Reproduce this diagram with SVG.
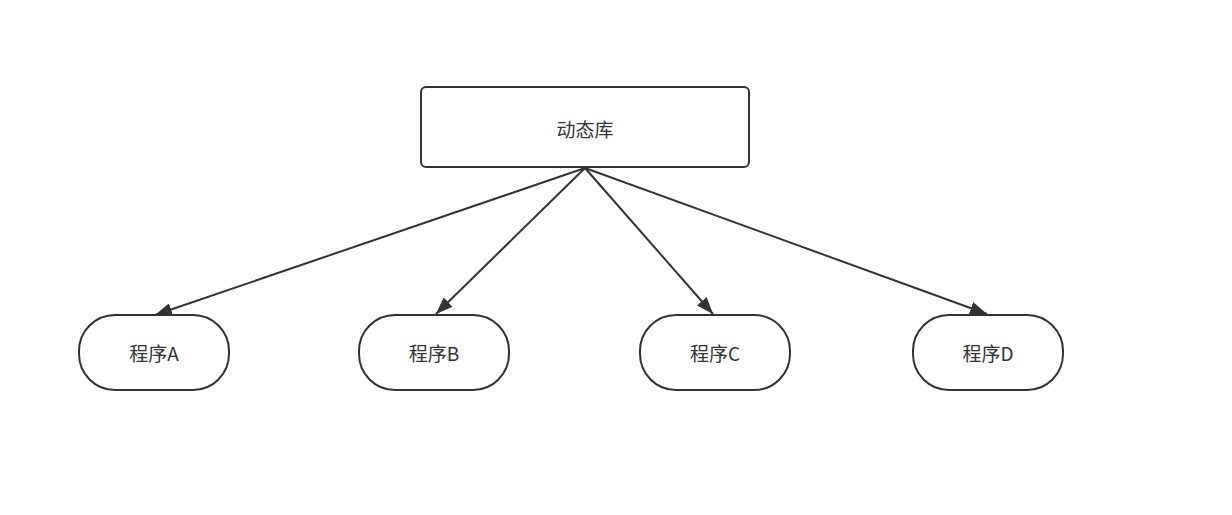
<svg xmlns="http://www.w3.org/2000/svg" width="1232" height="515" viewBox="0 0 1232 515">
<style>
.box{fill:#fff;stroke:#323232;stroke-width:2}
.lbl{font-family:"Noto Sans CJK SC","Liberation Sans",sans-serif;font-size:19px;fill:#333;text-anchor:middle;dominant-baseline:central}
.edge{stroke:#333;stroke-width:2;fill:none}
</style>
<defs>
<marker id="arr" viewBox="0 0 17 13" refX="17" refY="6.5" markerWidth="17" markerHeight="13" markerUnits="userSpaceOnUse" orient="auto">
<path d="M0,0 L17,6.5 L0,13 Z" fill="#333"/>
</marker>
</defs>
<rect width="1232" height="515" fill="#fff"/>
<g id="connectors">
<line class="edge" x1="585" y1="168" x2="155" y2="315" marker-end="url(#arr)"/>
<line class="edge" x1="585" y1="168" x2="436" y2="314" marker-end="url(#arr)"/>
<line class="edge" x1="585" y1="168" x2="713" y2="314" marker-end="url(#arr)"/>
<line class="edge" x1="585" y1="168" x2="987" y2="314" marker-end="url(#arr)"/>
</g>
<g id="lib">
<rect class="box" x="421" y="87" width="328" height="80" rx="5"/>
<text class="lbl" x="585" y="128">动态库</text>
</g>
<g id="progA">
<rect class="box" x="79" y="315" width="150" height="75" rx="36" ry="36"/>
<text class="lbl" x="154" y="352">程序A</text>
</g>
<g id="progB">
<rect class="box" x="359" y="315" width="150" height="75" rx="36" ry="36"/>
<text class="lbl" x="434" y="352">程序B</text>
</g>
<g id="progC">
<rect class="box" x="640" y="315" width="150" height="75" rx="36" ry="36"/>
<text class="lbl" x="715" y="352">程序C</text>
</g>
<g id="progD">
<rect class="box" x="913" y="315" width="150" height="75" rx="36" ry="36"/>
<text class="lbl" x="988" y="352">程序D</text>
</g>
</svg>
